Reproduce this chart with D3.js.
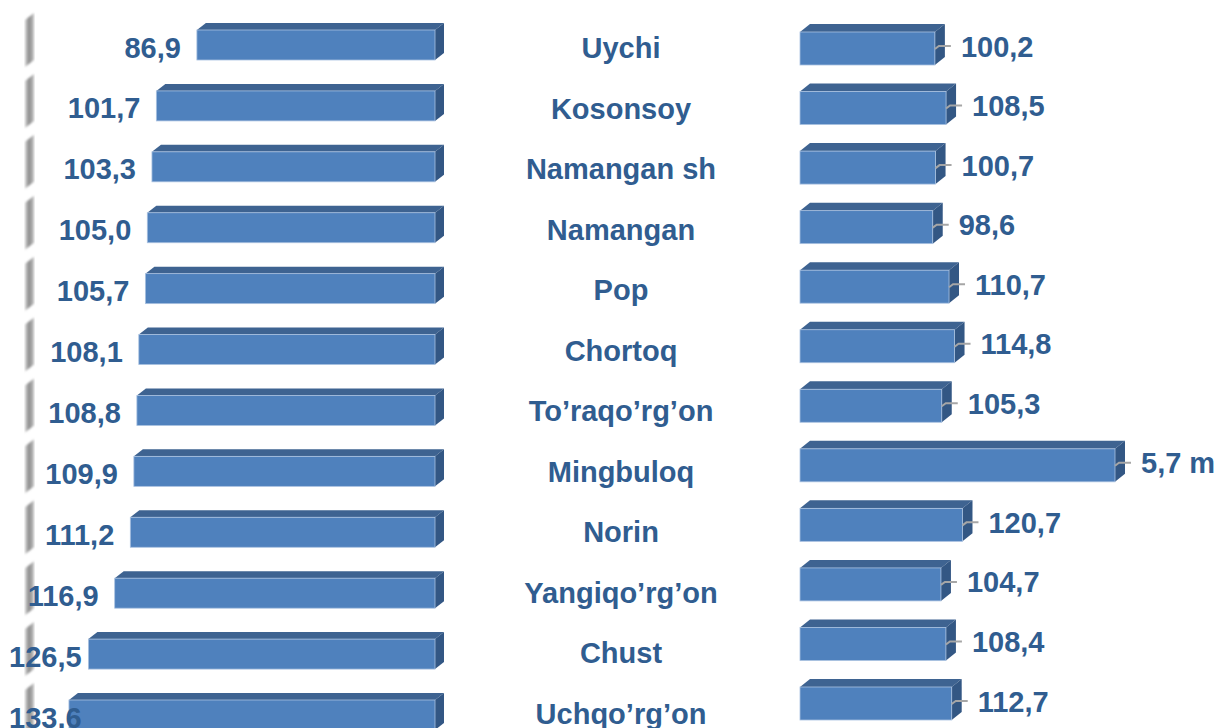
<!DOCTYPE html>
<html>
<head>
<meta charset="utf-8">
<script src="https://cdn.jsdelivr.net/npm/d3@7/dist/d3.min.js"></script>
<style>
  html, body { margin: 0; padding: 0; background: #ffffff; }
  svg { display: block; }
  text { font-family: "Liberation Sans", Arial, sans-serif; font-weight: bold; }
</style>
</head>
<body>
<svg id="chart" width="1216" height="728"></svg>
<script>
// Districts, top to bottom
const categories = ["Uychi", "Kosonsoy", "Namangan sh", "Namangan", "Pop", "Chortoq",
  "To’raqo’rg’on", "Mingbuloq", "Norin", "Yangiqo’rg’on", "Chust", "Uchqo’rg’on"];

// Left series (bars grow leftwards), %
const leftValues = [86.9, 101.7, 103.3, 105.0, 105.7, 108.1, 108.8, 109.9, 111.2, 116.9, 126.5, 133.6];

// Right series (bars grow rightwards), % ; Mingbuloq is 5.7 times
const rightValues = [100.2, 108.5, 100.7, 98.6, 110.7, 114.8, 105.3, 570, 120.7, 104.7, 108.4, 112.7];
const rightLabels = ["100,2", "108,5", "100,7", "98,6", "110,7", "114,8", "105,3", "5,7 m", "120,7", "104,7", "108,4", "112,7"];

// Right axis is cut off at this value; larger bars are clamped to it
const rightCap = 234;

const fmt = v => v.toFixed(1).replace(".", ",");

const svg = d3.select("#chart");

const colors = { front: "#4F81BD", top: "#3E6391", side: "#335784", text: "#305D90", leader: "#A6A6A6" };
const fontSize = 29;

// Scales
const xL = d3.scaleLinear().domain([0, 140]).range([435, 435 - 140 * 2.74]);
const xR = d3.scaleLinear().domain([0, rightCap]).range([800, 1115]).clamp(true);
const yL = d3.scalePoint().domain(categories).range([30, 700]);
const yR = d3.scalePoint().domain(categories).range([32, 687]);
const yC = d3.scalePoint().domain(categories).range([58, 724]);

const hL = 30, hR = 33;           // front face heights
const dL = { x: 9, y: 7 }, dR = { x: 10, y: 8 };  // 3D depth offsets

// Gradient for the grey edge strip at the far left
const defs = svg.append("defs");
const grad = defs.append("linearGradient").attr("id", "edgeGrad").attr("x1", "0").attr("x2", "1").attr("y1", "0").attr("y2", "0");
grad.append("stop").attr("offset", "0%").attr("stop-color", "#d4d4d4");
grad.append("stop").attr("offset", "45%").attr("stop-color", "#8a8a8a");
grad.append("stop").attr("offset", "100%").attr("stop-color", "#c4c4c4");
defs.append("filter").attr("id", "soft").append("feGaussianBlur").attr("stdDeviation", 0.8);

const pts = arr => arr.map(p => p.join(",")).join(" ");

// Grey edge strip segments
svg.append("g").selectAll("polygon").data(categories).join("polygon")
  .attr("points", c => {
    const t = yL(c) - 17, b = yL(c) + hL + 7;
    return pts([[25, t + 7], [34, t], [34, b - 7], [25, b]]);
  })
  .attr("fill", "url(#edgeGrad)")
  .attr("filter", "url(#soft)");

// Left bars
const gl = svg.append("g");
const leftData = categories.map((c, i) => ({ c, v: leftValues[i] }));
const lb = gl.selectAll("g").data(leftData).join("g");
lb.append("polygon") // top face
  .attr("points", d => {
    const x0 = xL(d.v), x1 = xL(0), y = yL(d.c);
    return pts([[x0, y], [x0 + dL.x, y - dL.y], [x1 + dL.x, y - dL.y], [x1, y]]);
  })
  .attr("fill", colors.top);
lb.append("polygon") // side face
  .attr("points", d => {
    const x1 = xL(0), y = yL(d.c);
    return pts([[x1, y], [x1 + dL.x, y - dL.y], [x1 + dL.x, y + hL - dL.y], [x1, y + hL]]);
  })
  .attr("fill", colors.side);
lb.append("rect") // front face
  .attr("x", d => xL(d.v))
  .attr("y", d => yL(d.c))
  .attr("width", d => xL(0) - xL(d.v))
  .attr("height", hL)
  .attr("fill", colors.front)
  .attr("stroke", "#a9c1e0").attr("stroke-width", 0.8);

// Left value labels (kept inside the left edge)
lb.append("text")
  .attr("text-anchor", "end")
  .attr("y", d => yL(d.c) + 27.5)
  .attr("font-size", fontSize)
  .attr("fill", colors.text)
  .text(d => fmt(d.v))
  .attr("x", function (d) {
    const w = this.getComputedTextLength();
    return Math.max(xL(d.v) - 16, 9 + w);
  });

// Category labels in the middle
svg.append("g").selectAll("text").data(categories).join("text")
  .attr("x", 621)
  .attr("y", c => yC(c))
  .attr("text-anchor", "middle")
  .attr("font-size", fontSize)
  .attr("fill", colors.text)
  .text(c => c);

// Right bars
const gr = svg.append("g");
const rightData = categories.map((c, i) => ({ c, v: rightValues[i], label: rightLabels[i] }));
const rb = gr.selectAll("g").data(rightData).join("g");
rb.append("polygon") // top face
  .attr("points", d => {
    const x0 = xR(0), x1 = xR(d.v), y = yR(d.c);
    return pts([[x0, y], [x0 + dR.x, y - dR.y], [x1 + dR.x, y - dR.y], [x1, y]]);
  })
  .attr("fill", colors.top);
rb.append("polygon") // side face
  .attr("points", d => {
    const x1 = xR(d.v), y = yR(d.c);
    return pts([[x1, y], [x1 + dR.x, y - dR.y], [x1 + dR.x, y + hR - dR.y], [x1, y + hR]]);
  })
  .attr("fill", colors.side);
rb.append("rect") // front face
  .attr("x", xR(0))
  .attr("y", d => yR(d.c))
  .attr("width", d => xR(d.v) - xR(0))
  .attr("height", hR)
  .attr("fill", colors.front)
  .attr("stroke", "#a9c1e0").attr("stroke-width", 0.8);

// Leader lines
rb.append("path")
  .attr("d", d => {
    const x = xR(d.v), y = yR(d.c);
    return `M${x},${y + 17} L${x + 4},${y + 14} L${x + 16},${y + 14}`;
  })
  .attr("fill", "none")
  .attr("stroke", colors.leader)
  .attr("stroke-width", 2);

// Right value labels
rb.append("text")
  .attr("x", d => xR(d.v) + 26)
  .attr("y", d => yR(d.c) + 24.5)
  .attr("font-size", fontSize)
  .attr("fill", colors.text)
  .text(d => d.label);
</script>
</body>
</html>
